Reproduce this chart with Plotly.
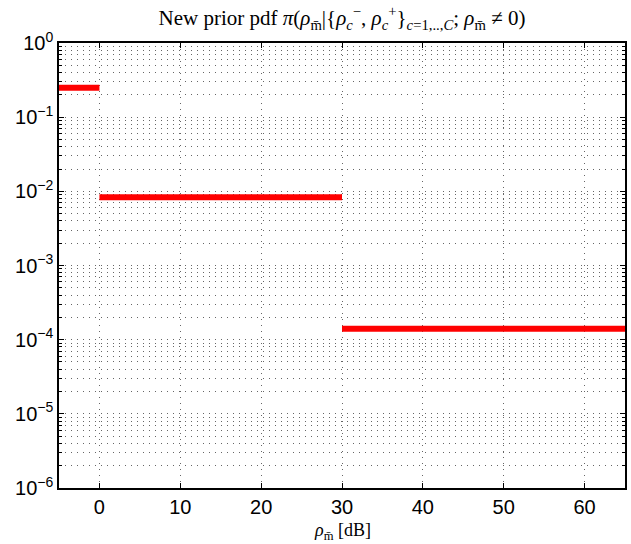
import plotly.graph_objects as go

# Data: piecewise-constant prior pdf segments
seg_start = [-5, 0, 30]
seg_end = [0, 30, 65]
seg_value = [0.25, 0.0083, 1.4e-4]

x_ticks = [0, 10, 20, 30, 40, 50, 60]
y_tick_exps = [0, -1, -2, -3, -4, -5, -6]

xs, ys = [], []
for a, b, v in zip(seg_start, seg_end, seg_value):
    xs += [a, b, None]
    ys += [v, v, None]

fig = go.Figure()
fig.add_trace(go.Scatter(x=xs, y=ys, mode="lines",
                         line=dict(color="#ff0000", width=6),
                         showlegend=False, hoverinfo="skip"))

tick_font = dict(family="Liberation Sans, Arial, sans-serif", size=20, color="black")
serif = "Liberation Serif, Times New Roman, serif"
grid_dash = "1px,5px"
grid_col = "#666"

fig.update_layout(
    width=631, height=544,
    margin=dict(l=59, r=6, t=43, b=56),
    paper_bgcolor="white", plot_bgcolor="white",
    title=dict(
        text="New prior pdf <i>π</i>(<i>ρ</i><sub>m\u0304</sub>|{<i>ρ</i><sub><i>c</i></sub><sup>−</sup>, <i>ρ</i><sub><i>c</i></sub><sup>+</sup>}<sub><i>c</i>=1,..,<i>C</i></sub>; <i>ρ</i><sub>m\u0304</sub> ≠ 0)",
        x=0.542, xanchor="center", y=0.967, yanchor="middle",
        font=dict(family=serif, size=21, color="black")),
    xaxis=dict(
        range=[-5, 65], tickvals=x_ticks, ticktext=[str(v) for v in x_ticks],
        showline=True, linecolor="black", linewidth=1.5, mirror="allticks",
        ticks="inside", ticklen=5, tickcolor="black",
        showgrid=True, gridcolor=grid_col, griddash=grid_dash, gridwidth=1,
        zeroline=False, tickfont=tick_font, automargin=False,
    ),
    yaxis=dict(
        type="log", range=[-6, 0], automargin=False,
        tickvals=[10 ** e for e in y_tick_exps],
        ticktext=["10<sup>%s</sup>" % (str(e).replace("-", "−")) for e in y_tick_exps],
        showline=True, linecolor="black", linewidth=1.5, mirror="allticks",
        ticks="inside", ticklen=5, tickcolor="black",
        showgrid=True, gridcolor=grid_col, griddash=grid_dash, gridwidth=1,
        zeroline=False, tickfont=tick_font,
        minor=dict(dtick="D1", showgrid=True, gridcolor=grid_col, griddash=grid_dash,
                   gridwidth=1, ticks="inside", ticklen=3, tickcolor="black"),
    ),
    annotations=[dict(
        text="<i>ρ</i><sub>m\u0304</sub> [dB]", xref="paper", yref="paper",
        x=0.5, xanchor="center", y=-0.097, yanchor="middle", showarrow=False,
        font=dict(family=serif, size=18, color="black"))],
)

fig.write_html("out.html", config={"displayModeBar": False},
               post_script="document.body.style.margin='0';")
